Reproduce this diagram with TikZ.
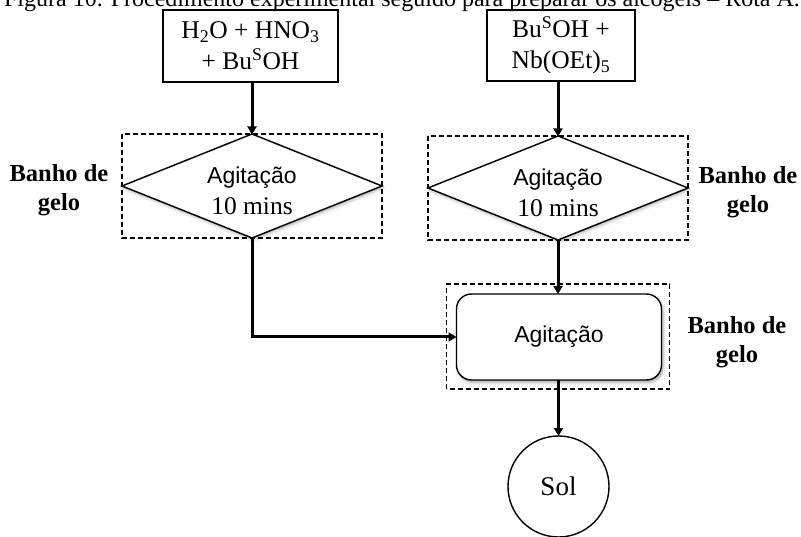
\documentclass[tikz,border=0pt]{standalone}
\usepackage{fontspec}
\setmainfont{Liberation Serif}
\newfontfamily\agitfont{Liberation Sans}
\usetikzlibrary{shapes.geometric,arrows.meta,shadows.blur,calc}

\begin{document}
\begin{tikzpicture}[x=1pt,y=-1pt,
  every node/.style={inner sep=0pt, outer sep=0pt},
  inbox/.style={draw, rectangle, line width=1.4pt, align=center,
    font=\fontsize{25.5}{31}\selectfont},
  decision/.style={draw, diamond, aspect=2.5, line width=1.4pt, fill=white,
    minimum width=260pt, minimum height=104pt, align=center,
    font=\fontsize{25.5}{31}\selectfont,
    blur shadow={shadow xshift=1pt, shadow yshift=-2pt,
      shadow blur radius=3pt, shadow opacity=30}},
  process/.style={draw, rectangle, rounded corners=15pt, line width=1.4pt,
    fill=white, minimum width=205pt, minimum height=86pt,
    font=\agitfont\fontsize{23}{28}\selectfont,
    blur shadow={shadow xshift=1.5pt, shadow yshift=-2.5pt,
      shadow blur radius=3pt, shadow opacity=35}},
  endstate/.style={draw, circle, line width=1.4pt, minimum size=101pt,
    font=\fontsize{27}{32}\selectfont},
  bath/.style={draw, dashed, line width=1.1pt, dash pattern=on 5pt off 3pt},
  bathlabel/.style={align=center, font=\bfseries\fontsize{24.5}{29}\selectfont},
  arr/.style={line width=3pt, -{Triangle[length=8pt,width=9pt]}},
]
\useasboundingbox (0,0) rectangle (801,537);

% caption line
\node[anchor=base, font=\fontsize{24}{28}\selectfont] (title) at (402,7)
  {Figura 10. Procedimento experimental seguido para preparar os alcogéis – Rota A.};

% starting mixtures
\node[inbox, minimum width=175pt, minimum height=72pt] (b1) at (250.5,46)
  {H\textsubscript{2}O + HNO\textsubscript{3}\\+ Bu\textsuperscript{S}OH};
\node[inbox, minimum width=148pt, minimum height=71pt] (b2) at (561,45.5)
  {Bu\textsuperscript{S}OH +\\Nb(OEt)\textsubscript{5}};

% stirring steps (the strut lowers the two lines a little inside the diamond)
\node[decision] (d1) at (252,186)
  {\rule{0pt}{26pt}{\agitfont\fontsize{23}{31}\selectfont Agitação}\\10 mins};
\node[decision] (d2) at (558,188)
  {\rule{0pt}{26pt}{\agitfont\fontsize{23}{31}\selectfont Agitação}\\10 mins};
\draw[bath] (d1.west |- d1.north) rectangle (d1.east |- d1.south);
\draw[bath] (d2.west |- d2.north) rectangle (d2.east |- d2.south);

% combined stirring
\node[process] (r) at (559,337) {Agitação};
\draw[bath] ([xshift=-10pt,yshift=-9pt]r.south west) rectangle ([xshift=8pt,yshift=10pt]r.north east);

% final sol
\node[endstate] (c) at (558.5,486.5) {Sol};

% ice bath labels
\node[bathlabel] (l1) at (59,190) {Banho de\\gelo};
\node[bathlabel] (l2) at (748,192) {Banho de\\gelo};
\node[bathlabel] (l3) at (737,342) {Banho de\\gelo};

% connectors
\draw[arr] (b1.south -| d1.north) -- ([yshift=-0.5pt]d1.north);
\draw[arr] (b2.south -| d2.north) -- ([yshift=-0.5pt]d2.north);
\draw[arr] (d1.south) |- (r.west);
\draw[arr] (d2.south) -- (d2.south |- r.north);
\draw[arr] (r.south -| c.north) -- (c.north);
\end{tikzpicture}
\end{document}
